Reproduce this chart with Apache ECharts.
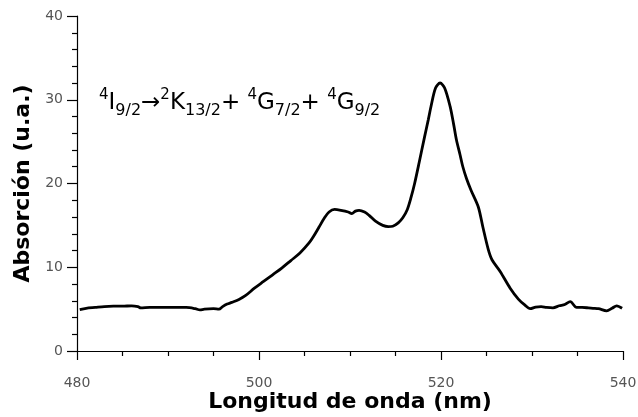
<!DOCTYPE html>
<html>
<head>
<meta charset="utf-8">
<script src="https://cdn.jsdelivr.net/npm/echarts@6/dist/echarts.min.js"></script>
<style>html,body{margin:0;padding:0;background:#fff;}#c{width:638px;height:417px;}</style>
</head>
<body>
<div id="c"></div>
<script>
const wavelength = [480.3,481,482,483,484,485,486,486.7,487,488,489,490,491,492,493,493.5,494,495,495.6,496,496.5,497,497.8,498.5,499.5,500.5,501.5,502.5,503.5,504.5,505.5,506,506.6,507.2,507.7,508.3,509,509.8,510.2,510.6,511,511.6,512.1,512.8,513.6,514.2,514.7,515.3,515.8,516.3,516.7,517.1,517.6,518.2,518.6,518.9,519.4,519.9,520.4,521,521.4,521.7,522.1,522.4,522.8,523.3,524.1,524.6,525.2,525.6,526.5,527.6,528.5,529.2,529.8,530.4,531,531.6,532.3,533,533.6,534.2,534.9,535.5,536.2,536.7,537.3,538.2,538.8,539.3,539.9];
const absorbance = [4.95,5.1,5.2,5.3,5.35,5.35,5.4,5.3,5.15,5.2,5.2,5.2,5.2,5.2,5.05,4.9,5.0,5.05,5.0,5.3,5.6,5.8,6.15,6.6,7.5,8.3,9.1,9.9,10.8,11.7,12.9,13.7,14.8,15.9,16.6,16.9,16.8,16.6,16.4,16.7,16.8,16.6,16.2,15.5,15.0,14.85,14.9,15.3,15.9,16.9,18.3,20.0,22.5,25.6,27.6,29.2,31.4,32.0,31.4,29.2,27.0,25.2,23.4,22.0,20.6,19.2,17.2,14.8,12.1,10.9,9.5,7.5,6.2,5.5,5.05,5.25,5.3,5.2,5.15,5.4,5.55,5.9,5.2,5.2,5.15,5.1,5.05,4.8,5.1,5.4,5.1];
const xTicks = [480,500,520,540];
const yTicks = [0,10,20,30,40];
const annotation = '{sup|4}{m|I}{sub|9/2}{m|→}{sup|2}{m|K}{sub|13/2}{m|+ }{sup|4}{m|G}{sub|7/2}{m|+ }{sup|4}{m|G}{sub|9/2}';

const FONT = '"DejaVu Sans", sans-serif';
const chart = echarts.init(document.getElementById('c'), null, {renderer: 'canvas'});
chart.setOption({
  animation: false,
  backgroundColor: '#fff',
  grid: {left: 77, right: 15, top: 16, bottom: 66, outerBoundsMode: 'none', containLabel: false},
  xAxis: {
    type: 'value', min: xTicks[0], max: xTicks[xTicks.length-1], interval: 20,
    name: 'Longitud de onda (nm)', nameLocation: 'middle', nameGap: 40, nameMoveOverlap: false,
    nameTextStyle: {fontFamily: FONT, fontWeight: 'bold', fontSize: 22, color: '#000'},
    axisLine: {show: true, onZero: false, lineStyle: {color: '#000', width: 1.2}},
    axisTick: {show: true, inside: false, length: 9, lineStyle: {color: '#000', width: 1.2}},
    minorTick: {show: true, splitNumber: 4, length: 5, lineStyle: {color: '#000', width: 1.2}},
    axisLabel: {margin: 25, fontFamily: FONT, fontSize: 14, color: '#555'},
    splitLine: {show: false}
  },
  yAxis: {
    type: 'value', min: yTicks[0], max: yTicks[yTicks.length-1], interval: 10,
    name: 'Absorción (u.a.)', nameLocation: 'middle', nameGap: 39,
    nameTextStyle: {fontFamily: FONT, fontWeight: 'bold', fontSize: 22, color: '#000'},
    axisLine: {show: true, onZero: false, lineStyle: {color: '#000', width: 1.2}},
    axisTick: {show: true, inside: false, length: 10, lineStyle: {color: '#000', width: 1.2}},
    minorTick: {show: true, splitNumber: 5, length: 5, lineStyle: {color: '#000', width: 1.2}},
    axisLabel: {margin: 14, fontFamily: FONT, fontSize: 14, color: '#555'},
    splitLine: {show: false}
  },
  series: [{
    type: 'line',
    data: wavelength.map((w, i) => [w, absorbance[i]]),
    showSymbol: false,
    smooth: 0.3,
    lineStyle: {color: '#000', width: 2.8},
    itemStyle: {color: '#000'}
  }],
  graphic: [{
    type: 'text', left: 99, top: 88,
    style: {
      text: annotation,
      fontFamily: FONT,
      fill: '#000',
      rich: {
        m: {fontSize: 23, lineHeight: 31, verticalAlign: 'middle', fontFamily: FONT, color: '#000'},
        sup: {fontSize: 15, lineHeight: 13, verticalAlign: 'top', fontFamily: FONT, color: '#000'},
        sub: {fontSize: 16, lineHeight: 18, verticalAlign: 'bottom', fontFamily: FONT, color: '#000'}
      }
    }
  }]
});
</script>
</body>
</html>
